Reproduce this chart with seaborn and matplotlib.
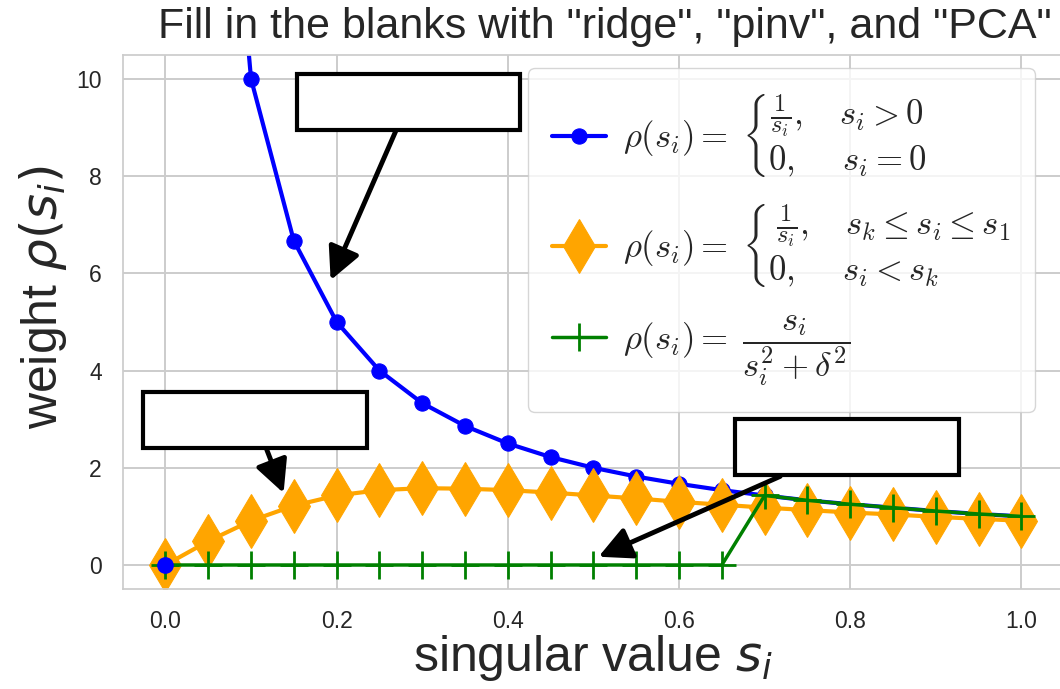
import matplotlib
matplotlib.use("Agg")
import matplotlib.pyplot as plt
from matplotlib.font_manager import FontProperties
import seaborn as sns

# singular values on the x axis
s_vals = [0.0, 0.05, 0.1, 0.15, 0.2, 0.25, 0.3, 0.35, 0.4, 0.45, 0.5,
          0.55, 0.6, 0.65, 0.7, 0.75, 0.8, 0.85, 0.9, 0.95, 1.0]
# pinv weights (s > 0 only, the s = 0 point is drawn on its own)
pinv_s = s_vals[1:]
pinv_w = [20.0, 10.0, 6.67, 5.0, 4.0, 3.33, 2.86, 2.5, 2.22, 2.0,
          1.82, 1.67, 1.54, 1.43, 1.33, 1.25, 1.18, 1.11, 1.05, 1.0]
pinv_zero_s = [0.0]
pinv_zero_w = [0.0]
# ridge-like weights
ridge_w = [0.0, 0.49, 0.91, 1.22, 1.43, 1.54, 1.58, 1.57, 1.54, 1.49, 1.43,
           1.37, 1.30, 1.24, 1.18, 1.13, 1.08, 1.04, 0.99, 0.95, 0.91]
# truncated weights
pca_w = [0.0, 0.0, 0.0, 0.0, 0.0, 0.0, 0.0, 0.0, 0.0, 0.0, 0.0,
         0.0, 0.0, 0.0, 1.43, 1.33, 1.25, 1.18, 1.11, 1.05, 1.0]

labels = [
    r"$\rho(s_i) =\; \left\{\genfrac{}{}{0}{0}{\frac{1}{s_i},\quad s_i > 0}{0,\quad\ s_i = 0}\right.$",
    r"$\rho(s_i) =\; \left\{\genfrac{}{}{0}{0}{\frac{1}{s_i},\quad s_k \leq s_i \leq s_1}{0,\quad\ s_i < s_k\qquad\ \ }\right.$",
    r"$\rho(s_i) =\; \dfrac{s_i}{s_i^2 + \delta^2}$",
]

# empty answer boxes: box centre, arrow tip
box_xy = [(0.284, 9.53), (0.105, 2.98), (0.796, 2.43)]
tip_xy = [(0.193, 5.86), (0.138, 1.48), (0.506, 0.17)]

sns.set_theme(style="whitegrid")
plt.rcParams["font.family"] = ["Liberation Sans", "DejaVu Sans"]

fig = plt.figure(figsize=(10.6, 6.89), dpi=100)
ax = fig.add_axes([0.1157, 0.1447, 0.8883, 0.776])

sns.lineplot(x=pinv_s, y=pinv_w, color="blue", marker="o", markersize=11,
             mec="blue", linewidth=3, label=labels[0], ax=ax)
sns.lineplot(x=s_vals, y=ridge_w, color="orange", marker="d", markersize=28,
             mec="orange", linewidth=3, label=labels[1], ax=ax)
sns.lineplot(x=s_vals, y=pca_w, color="green", marker="+", markersize=20,
             mec="green", mew=2, linewidth=2.5, label=labels[2], ax=ax)
ax.plot(pinv_zero_s, pinv_zero_w, "o", color="blue", markersize=11, zorder=5)

for (bx, by), (tx, ty) in zip(box_xy, tip_xy):
    ax.annotate(" " * 25, xy=(tx, ty), xytext=(bx, by), fontsize=20,
                ha="center", va="center",
                bbox=dict(boxstyle="square,pad=0.54", fc="white", ec="black", lw=3),
                arrowprops=dict(arrowstyle="-|>,head_length=0.9,head_width=0.45",
                                color="black", lw=3.5, mutation_scale=22,
                                shrinkA=0, shrinkB=0))

ax.set_xlim(-0.05, 1.05)
ax.set_ylim(-0.5, 10.5)
ax.set_xticks([0.0, 0.2, 0.4, 0.6, 0.8, 1.0])
ax.set_yticks([0, 2, 4, 6, 8, 10])
ax.tick_params(labelsize=16.5, pad=9)
ax.grid(linewidth=1.4)
ax.set_xlabel(r"singular value $s_i$", fontsize=36, labelpad=0)
ax.set_ylabel(r"weight $\rho(s_i)$", fontsize=36)
ax.yaxis.set_label_coords(-0.0565, 0.547)
ax.set_title('Fill in the blanks with "ridge", "pinv", and "PCA"', fontsize=31,
             x=0.512, pad=12)

leg_font = FontProperties(size=25, math_fontfamily="cm")
ax.legend(loc="upper left", bbox_to_anchor=(0.4305, 0.975), prop=leg_font,
          handlelength=1.55, handletextpad=0.5, labelspacing=0.66, borderpad=0.7,
          borderaxespad=0, frameon=True)

fig.savefig("out.png", dpi=100)
